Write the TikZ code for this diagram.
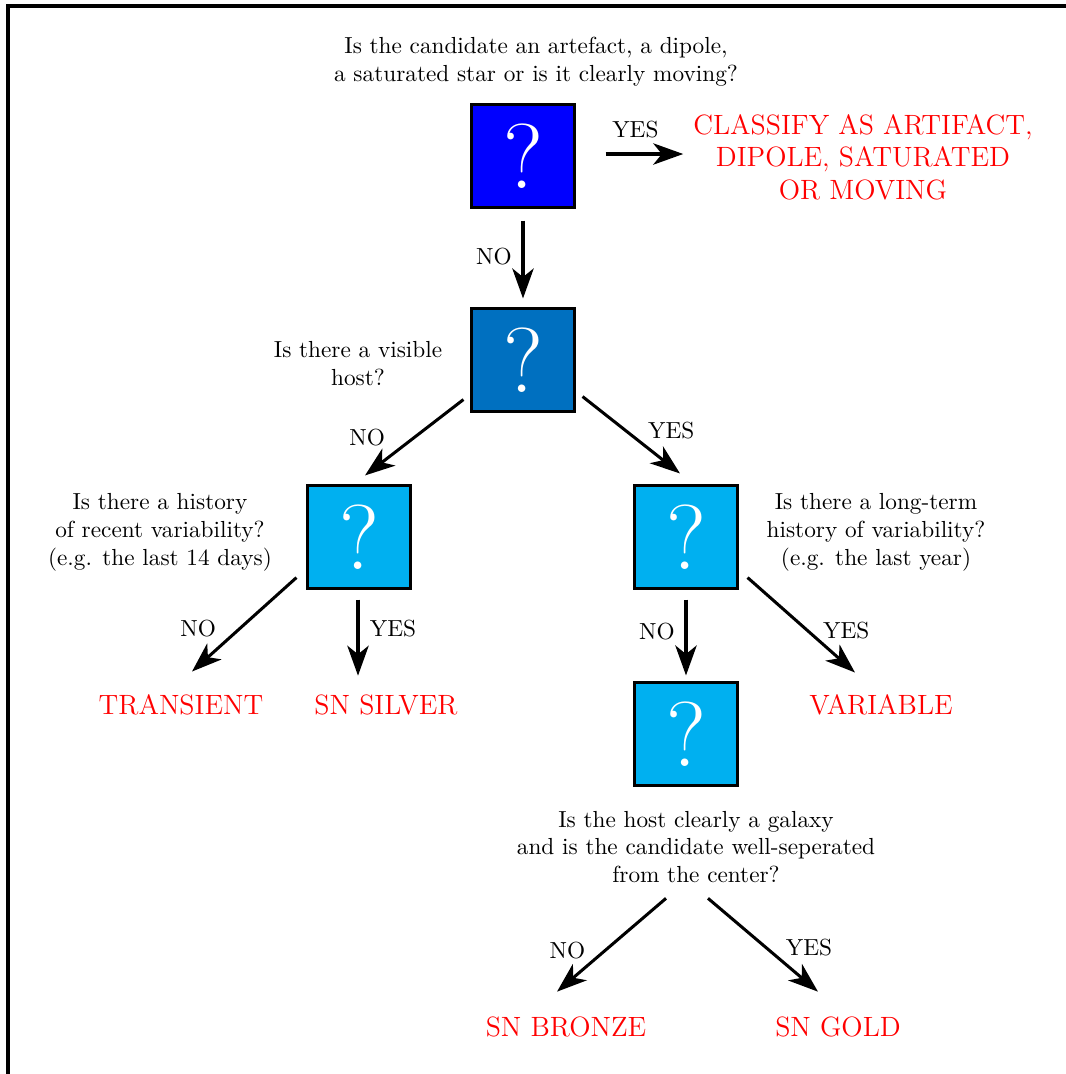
\documentclass[tikz,border=0pt]{standalone}
\usetikzlibrary{arrows.meta, positioning}
\definecolor{qblue}{RGB}{0,0,255}
\definecolor{qmid}{RGB}{0,112,192}
\definecolor{qcyan}{RGB}{0,176,240}
\tikzstyle{question} = [rectangle, draw=black, line width=1.3pt, minimum size=43.9pt, inner sep=0pt, text=white, font=\fontsize{39.6}{40}\selectfont]
\tikzstyle{asktext} = [align=center, text=black]
\tikzstyle{outcome} = [align=center, text=red, font=\large]
\tikzstyle{answer} = [font=\normalsize]
\tikzstyle{arrow} = [line width=1.3pt, -{Stealth[length=12.9pt, width=9.2pt, inset=3.7pt]}]

\begin{document}
\begin{tikzpicture}[x=0.43pt, y=-0.43pt]

    \useasboundingbox (0,0) rectangle (1066,1074);
    \begin{scope}
        \clip (0,0) rectangle (1066,1074);
        \draw [line width=1.7pt] (8,6) rectangle (1200,1200);
    \end{scope}

    % question boxes
    \node (q1) [question, fill=qblue] at (523,156) {?};
    \node (q2) [question, fill=qmid] at (523,360) {?};
    \node (q3) [question, fill=qcyan] at (359,537) {?};
    \node (q4) [question, fill=qcyan] at (686,537) {?};
    \node (q5) [question, fill=qcyan] at (686,734) {?};

    \node (t1) [asktext] at (536,62) {Is the candidate an artefact, a dipole,\\ a saturated star or is it clearly moving?};
    \node (t2) [asktext] at (358,364) {Is there a visible\\ host?};
    \node (t3) [asktext] at (160,532) {Is there a history\\ of recent variability?\\ (e.g. the last 14 days)};
    \node (t4) [asktext] at (876,532) {Is there a long-term\\ history of variability?\\ (e.g. the last year)};
    \node (t5) [asktext] at (696,847) {Is the host clearly a galaxy\\ and is the candidate well-seperated\\ from the center?};

    % outcomes
    \node (artifact) [outcome] at (863,157) {CLASSIFY AS ARTIFACT,\\ DIPOLE, SATURATED\\ OR MOVING};
    \node (transient) [outcome] at (181,705) {TRANSIENT};
    \node (silver) [outcome] at (386,705) {SN SILVER};
    \node (variable) [outcome] at (881,705) {VARIABLE};
    \node (bronze) [outcome] at (566,1027) {SN BRONZE};
    \node (gold) [outcome] at (838,1027) {SN GOLD};

    \draw [arrow] ([shift={(30,-2)}]q1.east) -- ([shift={(-2,-3)}]artifact.west) node[answer, midway, shift={(-9,-24)}] {YES};
    \draw [arrow] ([shift={(0,12)}]q1.south) -- ([shift={(0,-9)}]q2.north) node[answer, midway, shift={(-29,-3)}] {NO};
    \draw [arrow] ([shift={(-7,-13)}]q2.south west) -- ([shift={(6,-9)}]q3.north) node[answer, midway, shift={(-47,0)}] {NO};
    \draw [arrow] ([shift={(7,-16)}]q2.south east) -- ([shift={(-6,-11)}]q4.north) node[answer, midway, shift={(40,-4)}] {YES};
    \draw [arrow] ([shift={(-10,-12)}]q3.south west) -- ([shift={(11,-15)}]transient.north) node[answer, midway, shift={(-46,4)}] {NO};
    \draw [arrow] ([shift={(-1,10)}]q3.south) -- ([shift={(-28,-11)}]silver.north) node[answer, midway, shift={(35,-9)}] {YES};
    \draw [arrow] ([shift={(0,10)}]q4.south) -- ([shift={(0,-6)}]q5.north) node[answer, midway, shift={(-29,-6)}] {NO};
    \draw [arrow] ([shift={(9,-12)}]q4.south east) -- ([shift={(-26,-14)}]variable.north) node[answer, midway, shift={(45,6)}] {YES};
    \draw [arrow] ([shift={(-30,7)}]t5.south) -- ([shift={(-9,-17)}]bronze.north) node[answer, midway, shift={(-44,6)}] {NO};
    \draw [arrow] ([shift={(12,7)}]t5.south) -- ([shift={(-20,-17)}]gold.north) node[answer, midway, shift={(46,3)}] {YES};

\end{tikzpicture}
\end{document}
